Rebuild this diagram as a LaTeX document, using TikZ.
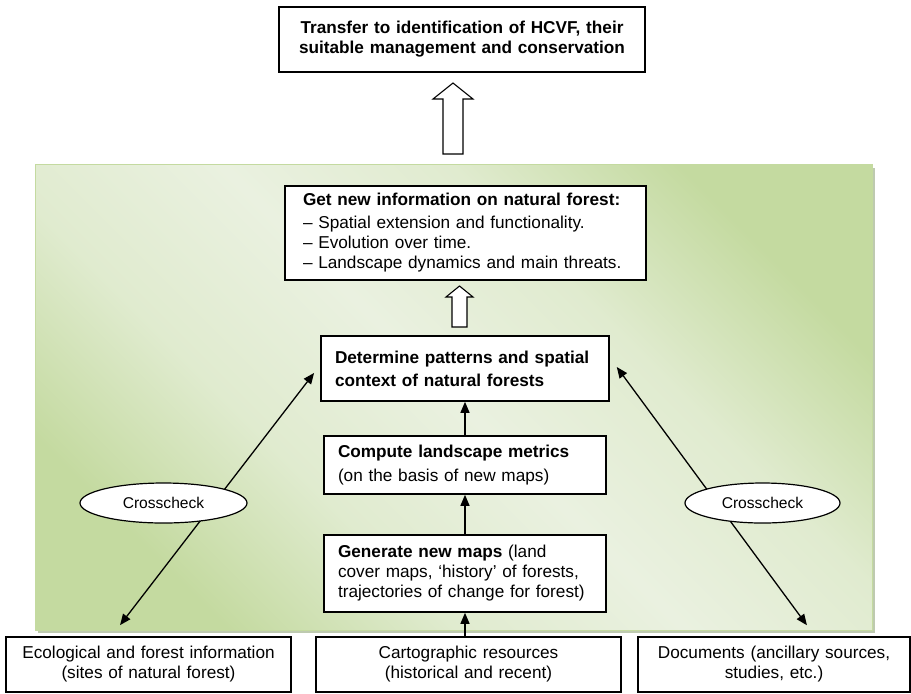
\documentclass[tikz,border=0pt]{standalone}
\usepackage{fontspec}
\setmainfont{Liberation Sans}
\usetikzlibrary{shapes.geometric,arrows.meta}

\definecolor{panelpale}{RGB}{234,241,224}
\definecolor{panelmid}{RGB}{224,235,207}
\definecolor{panelgreen}{RGB}{196,218,160}
\definecolor{panelshadow}{RGB}{190,202,176}

\pgfdeclareverticalshading{panelshading}{100bp}{color(0bp)=(panelgreen); color(25bp)=(panelgreen); color(37.5bp)=(panelmid); color(50bp)=(panelpale); color(62.5bp)=(panelmid); color(75bp)=(panelgreen); color(100bp)=(panelgreen)}

\tikzset{
	box/.style = {draw, fill = white, line width = 0.8pt, font = \fontsize{8.6}{10}\selectfont, align = left, inner ysep = 0pt},
	sourcebox/.style = {box, align = center, inner xsep = 6pt, minimum height = 27.5pt},
	crosscheck/.style = {ellipse, draw, fill = white, line width = 0.6pt, minimum height = 20pt, inner sep = 0pt, font = \fontsize{7.8}{9}\selectfont},
	link/.style = {line width = 0.65pt, -{Triangle[length = 5.5pt, width = 4.5pt]}},
	crosslink/.style = {line width = 0.65pt, {Triangle[length = 5.5pt, width = 4.5pt]}-{Triangle[length = 5.5pt, width = 4.5pt]}},
	blockarrow/.style = {draw, fill = white, line width = 0.55pt}
}

\begin{document}
\begin{tikzpicture}[x = 0.5pt, y = -0.5pt]
	\useasboundingbox (0, 0) rectangle (911, 693);

	\fill[fill = panelshadow] (38, 168) rectangle (875, 633);
	\shadedraw[shading = panelshading, shading angle = -45, draw = panelgreen, line width = 0.5pt] (35, 164) rectangle (872, 630);

	\node[box, align = center, text width = 171pt, inner xsep = 6pt, minimum height = 32.5pt, font = \bfseries\fontsize{8.6}{10}\selectfont] (transfer) at (462, 39.5) {Transfer to identification of HCVF, their\\suitable management and conservation};

	\draw[blockarrow] (443, 154) -- ++(0, -55) -- ++(-10, 0) -- ++(20, -16) -- ++(20, 16) -- ++(-10, 0) -- ++(0, 55) -- cycle;

	\node[box, text width = 162.5pt, inner xsep = 9pt, minimum height = 47pt] (info) at (465.5, 233) {\textbf{Get new information on natural forest:}\\[1.5pt]– Spatial extension and functionality.\\– Evolution over time.\\– Landscape dynamics and main threats.};

	\draw[blockarrow] (452, 327) -- ++(0, -30) -- ++(-6, 0) -- ++(13.5, -11) -- ++(13.5, 11) -- ++(-6, 0) -- ++(0, 30) -- cycle;

	\node[box, text width = 130pt, inner xsep = 7pt, minimum height = 32.5pt, font = \bfseries\fontsize{8.6}{10}\selectfont] (patterns) at (465, 368.5) {Determine patterns and spatial\\[1.5pt]context of natural forests};
	\node[box, text width = 127pt, inner xsep = 7pt, minimum height = 29pt] (metrics) at (465, 465) {\textbf{Compute landscape metrics}\\[2pt](on the basis of new maps)};
	\node[box, text width = 127pt, inner xsep = 7pt, minimum height = 38.5pt] (maps) at (465, 573.5) {\textbf{Generate new maps} (land\\cover maps, ‘history’ of forests,\\trajectories of change for forest)};

	\node[sourcebox, text width = 130.5pt] (ecology) at (148.5, 664.5) {Ecological and forest information\\(sites of natural forest)};
	\node[sourcebox, text width = 140.5pt] (carto) at (468.5, 664.5) {Cartographic resources\\(historical and recent)};
	\node[sourcebox, text width = 124pt] (documents) at (774, 664.5) {Documents (ancillary sources,\\studies, etc.)};

	\draw[link] (maps.south |- carto.north) -- (maps.south);
	\draw[link] (maps) -- (metrics);
	\draw[link] (metrics) -- (patterns);

	\draw[crosslink, shorten <= 7pt, shorten >= 5pt] ([xshift = -18.5pt]ecology.north) -- ([yshift = 1.75pt]patterns.west);
	\draw[crosslink, shorten <= 6.8pt, shorten >= 5.9pt] ([xshift = 20.5pt]documents.north) -- ([yshift = 5.5pt]patterns.east);

	\node[crosscheck, minimum width = 83.5pt] (checkleft) at (163.5, 503) {Crosscheck};
	\node[crosscheck, minimum width = 77.5pt] (checkright) at (762.5, 503) {Crosscheck};
\end{tikzpicture}
\end{document}
